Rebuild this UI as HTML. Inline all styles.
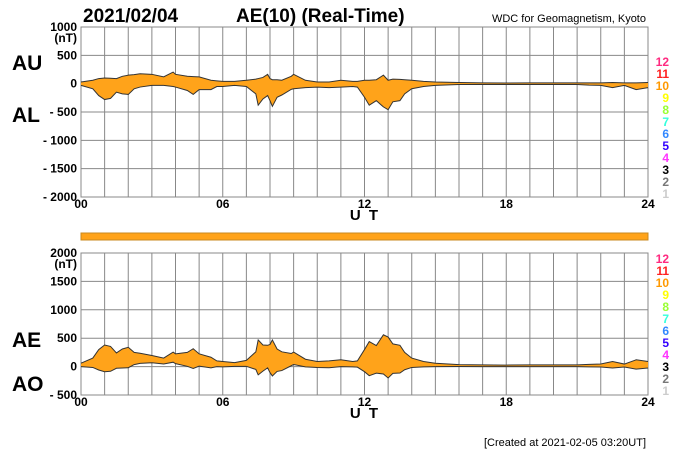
<!DOCTYPE html>
<html><head><meta charset="utf-8"><style>
body{margin:0;background:#fff}
svg{display:block;font-family:"Liberation Sans",sans-serif}
</style></head><body>
<svg id="c" width="700" height="450" viewBox="0 0 700 450">
<text x="83" y="22" font-size="19" font-weight="bold">2021/02/04</text>
<text x="236" y="22" font-size="19" font-weight="bold">AE(10) (Real-Time)</text>
<text x="646" y="22" font-size="11" text-anchor="end">WDC for Geomagnetism, Kyoto</text>
<text x="12" y="70" font-size="21" font-weight="bold">AU</text>
<text x="12" y="122" font-size="21" font-weight="bold">AL</text>
<text x="12" y="347" font-size="21" font-weight="bold">AE</text>
<text x="12" y="391" font-size="21" font-weight="bold">AO</text>
<text x="646" y="446" font-size="11" text-anchor="end">[Created at 2021-02-05 03:20UT]</text>
<g id="top"></g><g id="bot"></g>
</svg>
<script>
const hours=[0,0.5,0.75,1,1.25,1.5,1.75,2,2.25,2.5,3,3.5,3.9,4,4.5,4.75,5,5.5,5.75,6,6.5,7,7.4,7.5,7.7,7.9,8,8.1,8.3,8.5,8.9,9,9.5,10,10.5,11,11.5,11.7,12,12.2,12.5,12.8,13,13.2,13.5,13.7,14,14.5,15,16,17,18,19,20,21,21.5,22,22.5,23,23.5,24];
const au=[30,60,90,100,95,90,130,150,160,175,165,120,205,165,130,125,120,60,50,40,40,60,80,90,110,165,90,70,70,60,130,165,60,30,30,60,40,40,60,60,70,150,60,80,75,70,60,40,30,20,15,12,15,15,15,15,15,20,15,15,20];
const al=[-30,-90,-210,-280,-260,-150,-180,-190,-90,-60,-30,-30,-50,-60,-120,-190,-105,-105,-50,-50,-30,-50,-180,-380,-270,-210,-300,-400,-240,-200,-100,-90,-70,-60,-70,-60,-50,-60,-240,-380,-300,-410,-460,-320,-300,-180,-90,-50,-30,-15,-15,-15,-15,-15,-15,-25,-30,-70,-30,-105,-70];
const topTicks=["1000","500","0","- 500","- 1000","- 1500","- 2000"];
const botTicks=["2000","1500","1000","500","0","- 500"];
const xTicks=["00","06","12","18","24"];
const legendNums=["12","11","10","9","8","7","6","5","4","3","2","1"];
const legendCols=["#ff2a80","#ff2020","#ff9900","#ffff00","#99ff33","#33ffdd","#3388ff","#3300ff","#ff33ff","#000","#777","#ccc"];
const NS="http://www.w3.org/2000/svg";
const X0=81,X1=648;
const xs=h=>X0+(X1-X0)*h/24;
function mk(p,t,a){const e=document.createElementNS(NS,t);for(const k in a)e.setAttribute(k,a[k]);p.appendChild(e);return e;}
function panel(g,yTop,yBot,vmax,vmin,ticks,up,lo,name,legTop){
  const ys=v=>yTop+(vmax-v)*(yBot-yTop)/(vmax-vmin);
  for(let i=0;i<=24;i++){const l=mk(g,'line',{x1:xs(i),x2:xs(i),y1:yTop,y2:yBot,stroke:'#888','stroke-width':1});
    
    }
  ticks.forEach((t,i)=>{const v=vmax-i*500,y=ys(v);
    const l=mk(g,'line',{x1:X0,x2:X1,y1:y,y2:y,stroke:'#888','stroke-width':1});
    
    
    const tx=mk(g,'text',{x:77,y:y+4,'font-size':12,'font-weight':'bold','text-anchor':'end'});tx.textContent=t;
    
    });
  const nt=mk(g,'text',{x:77,y:ys(vmax)+15,'font-size':12,'font-weight':'bold','text-anchor':'end'});nt.textContent="(nT)";
  
  
  const r=mk(g,'rect',{x:X0,y:yTop,width:X1-X0,height:yBot-yTop,fill:'none',stroke:'#888'});
  
  
  let d='M'+hours.map((h,i)=>xs(h)+','+ys(up[i])).join('L');
  for(let i=hours.length-1;i>=0;i--)d+='L'+xs(hours[i])+','+ys(lo[i]);
  const a=mk(g,'path',{d:d+'Z',fill:'#ffa31a',stroke:'none'});
  
  
  const l1=mk(g,'polyline',{points:hours.map((h,i)=>xs(h)+','+ys(up[i])).join(' '),fill:'none',stroke:'#333','stroke-width':1});
  
  
  const l2=mk(g,'polyline',{points:hours.map((h,i)=>xs(h)+','+ys(lo[i])).join(' '),fill:'none',stroke:'#333','stroke-width':1});
  
  
  xTicks.forEach((t,i)=>{const tx=mk(g,'text',{x:xs(i*6),y:yBot+11,'font-size':12,'font-weight':'bold','text-anchor':'middle'});tx.textContent=t;
    
    });
  const ut=mk(g,'text',{x:365,y:yBot+23,'font-size':15,'font-weight':'bold','text-anchor':'middle','letter-spacing':'2'});ut.textContent="U T";
  
  
  legendNums.forEach((n,i)=>{const tx=mk(g,'text',{x:669,y:legTop+i*12,'font-size':12,'font-weight':'bold','text-anchor':'end',fill:legendCols[i]});tx.textContent=n;
    
    });
}
const ae=au.map((v,i)=>v-al[i]);
const ao=au.map((v,i)=>(v+al[i])/2);
panel(document.getElementById('top'),27,197,1000,-2000,topTicks,au,al,'au-al',66);
panel(document.getElementById('bot'),253,395,2000,-500,botTicks,ae,ao,'ae-ao',263);
const bar=mk(document.getElementById('c'),'rect',{x:X0,y:233,width:X1-X0,height:7,fill:'#ffa31a',stroke:'#c88a20'});


</script>
</body></html>
